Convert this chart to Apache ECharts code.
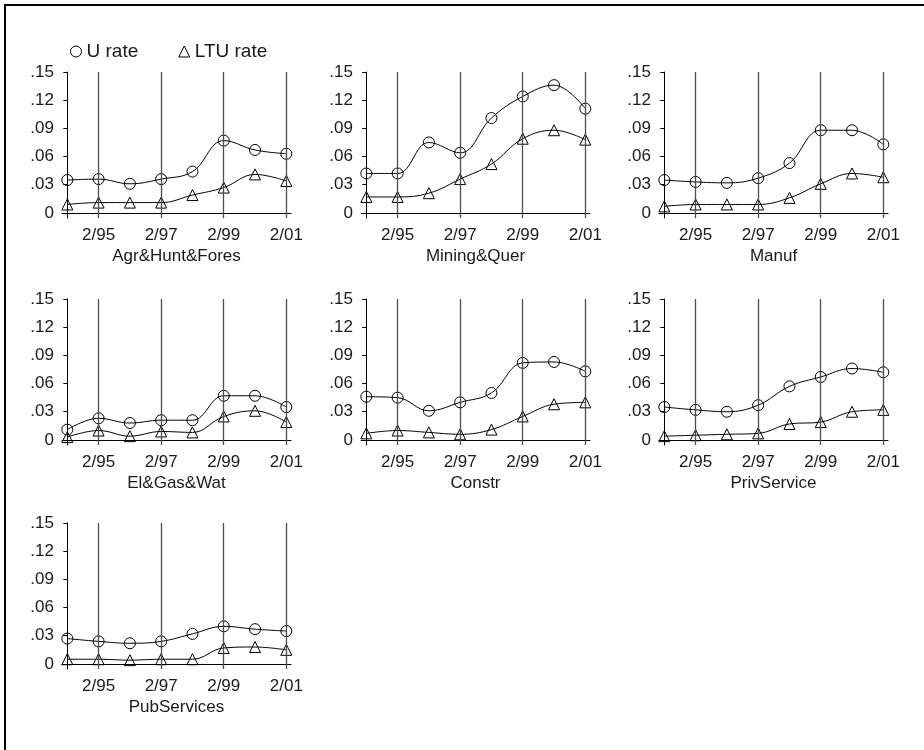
<!DOCTYPE html>
<html>
<head>
<meta charset="utf-8">
<script src="https://cdn.jsdelivr.net/npm/echarts@6/dist/echarts.min.js"></script>
<style>
    html, body { margin: 0; padding: 0; background: #fff; }
    #chart { width: 924px; height: 750px; }
</style>
</head>
<body>
<div id="chart"></div>
<script>
    // periods on the x axis, one point per year
    var periods = ['2/94', '2/95', '2/96', '2/97', '2/98', '2/99', '2/00', '2/01'];
    var xTickPos = [1, 3, 5, 7];
    var yTicks = [0, 0.03, 0.06, 0.09, 0.12, 0.15];

    var sectors = ['Agr&Hunt&Fores', 'Mining&Quer', 'Manuf', 'El&Gas&Wat', 'Constr', 'PrivService', 'PubServices'];

    var uAgr = [0.035, 0.036, 0.031, 0.036, 0.044, 0.077, 0.067, 0.063];
    var ltuAgr = [0.009, 0.011, 0.011, 0.011, 0.019, 0.027, 0.041, 0.034];
    var uMin = [0.042, 0.042, 0.075, 0.064, 0.101, 0.124, 0.136, 0.111];
    var ltuMin = [0.017, 0.017, 0.021, 0.036, 0.052, 0.079, 0.088, 0.078];
    var uMan = [0.035, 0.033, 0.032, 0.037, 0.053, 0.088, 0.088, 0.073];
    var ltuMan = [0.007, 0.009, 0.009, 0.009, 0.016, 0.031, 0.042, 0.038];
    var uEl = [0.011, 0.023, 0.018, 0.021, 0.021, 0.047, 0.047, 0.035];
    var ltuEl = [0.003, 0.010, 0.004, 0.009, 0.008, 0.025, 0.031, 0.019];
    var uCon = [0.046, 0.045, 0.031, 0.040, 0.050, 0.082, 0.083, 0.073];
    var ltuCon = [0.007, 0.010, 0.008, 0.006, 0.011, 0.025, 0.038, 0.040];
    var uPriv = [0.035, 0.032, 0.030, 0.037, 0.057, 0.067, 0.076, 0.072];
    var ltuPriv = [0.004, 0.005, 0.006, 0.007, 0.017, 0.019, 0.030, 0.032];
    var uPub = [0.027, 0.024, 0.022, 0.024, 0.032, 0.040, 0.037, 0.035];
    var ltuPub = [0.005, 0.005, 0.004, 0.005, 0.005, 0.017, 0.018, 0.015];

    var uRates = [uAgr, uMin, uMan, uEl, uCon, uPriv, uPub];
    var ltuRates = [ltuAgr, ltuMin, ltuMan, ltuEl, ltuCon, ltuPriv, ltuPub];

    var font = '"Liberation Sans", Arial, Helvetica, sans-serif';
    var txt = '#1a1a1a';
    var colLeft = [62, 361, 659];
    var rowTop = [72, 299, 523];

    var grids = [], xAxes = [], yAxes = [], series = [];

    function toPoints(arr) {
        return arr.map(function (v, i) { return [i, v]; });
    }

    sectors.forEach(function (name, k) {
        var r = Math.floor(k / 3), c = k % 3;
        grids.push({ left: colLeft[c], top: rowTop[r], width: 229, height: 146 });
        xAxes.push({
            gridIndex: k,
            type: 'value',
            min: -0.17,
            max: 7.15,
            name: name,
            nameLocation: 'middle',
            nameGap: 30,
            nameTextStyle: { fontFamily: font, fontSize: 17, color: txt },
            axisLine: { show: true, lineStyle: { color: '#000', width: 1 } },
            axisTick: { show: true, length: 4, inside: false, customValues: xTickPos, lineStyle: { color: '#000' } },
            axisLabel: {
                customValues: xTickPos,
                margin: 9,
                fontFamily: font, fontSize: 17, color: txt,
                formatter: function (v) { return periods[Math.round(v)]; }
            },
            splitLine: { show: false }
        });
        yAxes.push({
            gridIndex: k,
            type: 'value',
            min: -0.0054,
            max: 0.15,
            axisLine: { show: true, lineStyle: { color: '#000', width: 1 } },
            axisTick: { show: true, length: 4, customValues: yTicks, lineStyle: { color: '#000' } },
            axisLabel: {
                customValues: yTicks,
                margin: 8,
                fontFamily: font, fontSize: 17, color: txt,
                formatter: function (v) {
                    return v === 0 ? '0' : v.toFixed(2).replace(/^0/, '');
                }
            },
            splitLine: { show: false }
        });
        series.push({
            name: 'U rate',
            type: 'line',
            xAxisIndex: k,
            yAxisIndex: k,
            data: toPoints(uRates[k]),
            smooth: 0.4,
            symbol: 'circle',
            symbolSize: 11,
            itemStyle: { color: 'rgba(0,0,0,0)', borderColor: '#000', borderWidth: 1 },
            lineStyle: { color: '#000', width: 1 },
            emphasis: { disabled: true },
            markLine: {
                silent: true,
                symbol: ['none', 'none'],
                label: { show: false },
                lineStyle: { color: '#4d4d4d', width: 1.3, type: 'solid' },
                data: xTickPos.map(function (p) { return { xAxis: p }; })
            },
            z: 3
        });
        series.push({
            name: 'LTU rate',
            type: 'line',
            xAxisIndex: k,
            yAxisIndex: k,
            data: toPoints(ltuRates[k]),
            smooth: 0.4,
            symbol: 'triangle',
            symbolSize: 11,
            itemStyle: { color: 'rgba(0,0,0,0)', borderColor: '#000', borderWidth: 1 },
            lineStyle: { color: '#000', width: 1 },
            emphasis: { disabled: true },
            z: 3
        });
    });

    var chart = echarts.init(document.getElementById('chart'), null, { renderer: 'canvas' });
    chart.setOption({
        backgroundColor: '#fff',
        animation: false,
        legend: {
            left: 65,
            top: 37,
            itemWidth: 11,
            itemHeight: 11,
            itemGap: 40,
            selectedMode: false,
            textStyle: { fontFamily: font, fontSize: 19, color: txt },
            data: [
                { name: 'U rate', icon: 'circle', itemStyle: { color: '#fff', borderColor: '#000', borderWidth: 1 } },
                { name: 'LTU rate', icon: 'triangle', itemStyle: { color: '#fff', borderColor: '#000', borderWidth: 1 } }
            ]
        },
        graphic: [{
            type: 'rect',
            shape: { x: 5, y: 5, width: 960, height: 800 },
            style: { fill: 'none', stroke: '#000', lineWidth: 2 },
            silent: true
        }],
        grid: grids,
        xAxis: xAxes,
        yAxis: yAxes,
        series: series
    });
</script>
</body>
</html>
